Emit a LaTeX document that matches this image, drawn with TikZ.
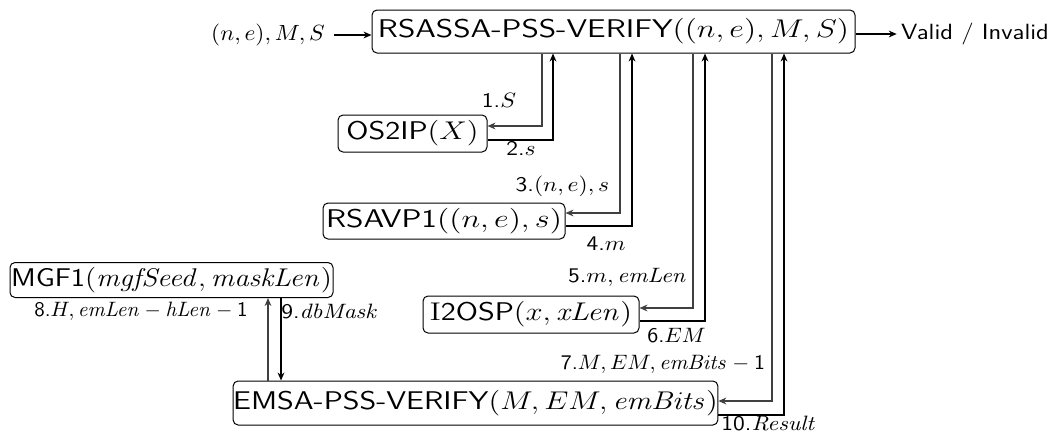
\RequirePackage{fix-cm}
\documentclass[tikz,border=0pt]{standalone}
\usepackage{graphicx}
\usetikzlibrary{arrows.meta}
% lettering is set slightly widened
\newcommand{\stretchtxt}[2][1.13]{\scalebox{#1}[1]{#2}}
\newcommand{\id}[1]{\mathit{#1}}
\begin{document}
\begin{tikzpicture}[x=0.5pt,y=-0.5pt,
  fn/.style={draw, rounded corners=2.5pt, line width=0.5pt, inner sep=0pt,
    font=\sffamily\fontsize{12.8}{15}\selectfont},
  lbl/.style={inner sep=0pt, font=\sffamily\fontsize{10.4}{12}\selectfont},
  io/.style={inner sep=0pt, font=\sffamily\fontsize{11}{13}\selectfont},
  tip/.tip={Stealth[length=4pt,width=3.4pt]},
  call/.style={draw=black!75, line width=0.55pt, -tip},
  ret/.style={draw=black, line width=0.9pt, -tip},
  flow/.style={draw=black, line width=0.9pt, -tip},
]
\useasboundingbox (0,0) rectangle (1063,434);

% function boxes
\node[fn, minimum width=241.5pt, minimum height=21.5pt] (top)   at (613.5,31.5)
  {\stretchtxt[1.245]{RSASSA-PSS-VERIFY$((n,e),M,S)$}};
\node[fn, minimum width=74.5pt,  minimum height=18.5pt] (os2ip) at (412.5,133.5)
  {\stretchtxt[1.2]{OS2IP$(X)$}};
\node[fn, minimum width=121pt,   minimum height=18pt]   (rsavp) at (444,221)
  {\stretchtxt[1.25]{RSAVP1$((n,e),s)$}};
\node[fn, minimum width=108pt,   minimum height=18.5pt] (i2osp) at (531,314.5)
  {\stretchtxt[1.2]{\textrm{I}2OSP$(x,\id{xLen})$}};
\node[fn, minimum width=161.5pt, minimum height=17.5pt] (mgf)   at (171.5,280)
  {\stretchtxt[1.135]{MGF1$(\id{mgfSeed},\id{maskLen})$}};
\node[fn, minimum width=241.5pt, minimum height=22pt]   (emsa)  at (475.5,403)
  {\stretchtxt[1.2]{EMSA-PSS-VERIFY$(M,EM,\id{emBits})$}};

% inputs and result
\node[io] (inp) at (268,35) {\stretchtxt[1.06]{$(n,e),M,S$}};
\node[io] (out) at (975,34) {\stretchtxt[1.15]{Valid / Invalid}};
\draw[flow] ([xshift=4.5pt]inp.east) -- (top.west |- inp.east);
\draw[flow] (top.east |- out.west) -- ([xshift=-2pt]out.west);

% turning points of the call / return lines
\coordinate (c1) at (542,126); \coordinate (r1) at (553,140);
\coordinate (c2) at (620,213); \coordinate (r2) at (632,226);
\coordinate (c3) at (693,308); \coordinate (r3) at (705,321);
\coordinate (c4) at (772,401); \coordinate (r4) at (784,415);
\coordinate (c5) at (268,0);   \coordinate (r5) at (281,0);

\draw[call] (top.south -| c1) |- (os2ip.east |- c1);
\draw[ret]  (os2ip.east |- r1) -| (top.south -| r1);
\draw[call] (top.south -| c2) |- (rsavp.east |- c2);
\draw[ret]  (rsavp.east |- r2) -| (top.south -| r2);
\draw[call] (top.south -| c3) |- (i2osp.east |- c3);
\draw[ret]  (i2osp.east |- r3) -| (top.south -| r3);
\draw[call] (top.south -| c4) |- (emsa.east |- c4);
\draw[ret]  (emsa.east |- r4) -| (top.south -| r4);
\draw[call] (emsa.north -| c5) -- (mgf.south -| c5);
\draw[ret]  (mgf.south -| r5) -- (emsa.north -| r5);

% step labels
\node[lbl] (l1)  at (499,100)   {\stretchtxt{1.$S$}};
\node[lbl] (l2)  at (521,148)   {\stretchtxt{2.$s$}};
\node[lbl] (l3)  at (562.5,186) {\stretchtxt{3.$(n,e),s$}};
\node[lbl] (l4)  at (606,244)   {\stretchtxt{4.$m$}};
\node[lbl] (l5)  at (627.5,277) {\stretchtxt{5.$m,\id{emLen}$}};
\node[lbl] (l6)  at (676.5,336) {\stretchtxt[1.06]{6.$EM$}};
\node[lbl] (l7)  at (663,364)   {\stretchtxt[1.05]{7.$M,EM,\id{emBits}-{}$1}};
\node[lbl] (l8)  at (141,311)   {\stretchtxt[1.01]{8.$H,\id{emLen}-\id{hLen}-{}$1}};
\node[lbl] (l9)  at (330,311)   {\stretchtxt{9.$\id{dbMask}$}};
\node[lbl] (l10) at (769,423)   {\stretchtxt{10.$\id{Result}$}};
\end{tikzpicture}
\end{document}
